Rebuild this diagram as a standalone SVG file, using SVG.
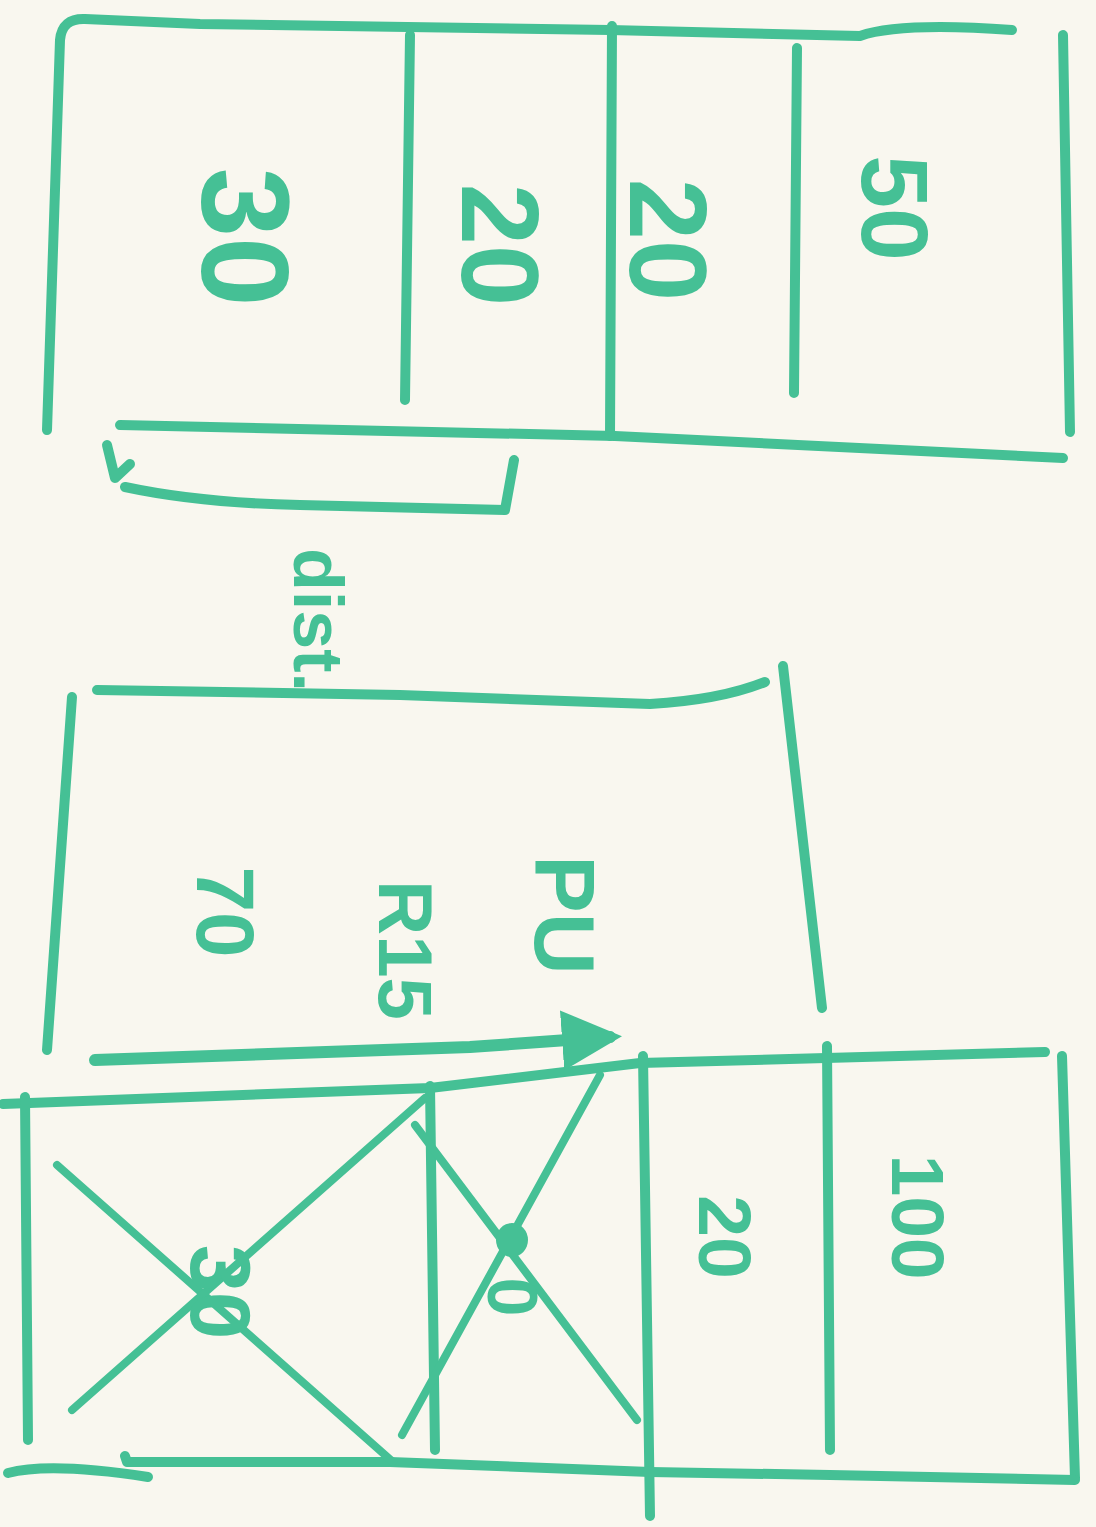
<svg xmlns="http://www.w3.org/2000/svg" width="1096" height="1527" viewBox="0 0 1096 1527">
<style>
.ink{fill:none;stroke:#45c095;stroke-width:10;stroke-linecap:round;stroke-linejoin:round}
.thin{stroke-width:8}
.lbl{fill:#45c095;font-family:"Liberation Sans",Arial,sans-serif;font-weight:bold;text-anchor:middle;dominant-baseline:central}
</style>
<defs>
<marker id="ah" viewBox="0 0 10 10" refX="8" refY="5" markerWidth="5" markerHeight="5" orient="auto" markerUnits="strokeWidth">
<path d="M0,0 L10,5 L0,10 Z" fill="#45c095"/>
</marker>
</defs>
<rect width="1096" height="1527" fill="#f9f7ef"/>

<g id="top-block">
<path class="ink" d="M47,430 L60,40 Q62,18 85,19 L200,24 L610,30 L860,36 Q900,22 1012,30"/>
<path class="ink" d="M1063,35 L1070,432"/>
<path class="ink" d="M120,425 L615,436 L1063,458"/>
<path class="ink" d="M410,35 L405,400"/>
<path class="ink" d="M612,26 L610,436"/>
<path class="ink" d="M797,48 L794,393"/>
<text class="lbl" font-size="125" transform="translate(245,237) rotate(90)">30</text>
<text class="lbl" font-size="110" transform="translate(500,245) rotate(90)">20</text>
<text class="lbl" font-size="110" transform="translate(668,240) rotate(90)">20</text>
<text class="lbl" font-size="95" transform="translate(895,208) rotate(90)">50</text>
</g>

<g id="dist-bracket">
<path class="ink" d="M107,445 L115,478 L130,464"/>
<path class="ink" d="M125,487 Q200,503 300,505 L505,510 L514,460"/>
<text class="lbl" font-size="70" transform="translate(318,620) rotate(90)">dist.</text>
</g>

<g id="middle-block">
<path class="ink" d="M97,690 L400,695 L650,704 Q720,700 765,682"/>
<path class="ink" d="M72,697 L47,1050"/>
<path class="ink" d="M783,666 L822,1008"/>
<text class="lbl" font-size="82" transform="translate(225,912) rotate(90)">70</text>
<text class="lbl" font-size="76" transform="translate(405,950) rotate(90)">R15</text>
<text class="lbl" font-size="86" transform="translate(565,915) rotate(90)">PU</text>
</g>

<g id="bottom-block">
<path class="ink" d="M3,1104 L430,1088 L640,1063 L1045,1052"/>
<path class="ink" d="M25,1097 L28,1440"/>
<path class="ink" d="M430,1086 L435,1450"/>
<path class="ink" d="M643,1056 L650,1516"/>
<path class="ink" d="M827,1046 L830,1450"/>
<path class="ink" d="M1062,1056 L1075,1478"/>
<path class="ink" d="M8,1473 Q50,1462 148,1477"/>
<path class="ink" d="M125,1456 L127,1462 L390,1462 L650,1472 L830,1475 L1075,1480"/>
<path class="ink thin" d="M57,1165 L393,1462"/>
<path class="ink thin" d="M72,1410 L425,1098"/>
<path class="ink thin" d="M415,1125 L637,1420"/>
<path class="ink thin" d="M402,1435 L600,1075"/>
<text class="lbl" font-size="85" transform="translate(220,1292) rotate(90)">30</text>
<ellipse cx="512" cy="1240" rx="16" ry="17" fill="#45c095"/>
<text class="lbl" font-size="70" transform="translate(512,1297) rotate(90)">0</text>
<text class="lbl" font-size="75" transform="translate(725,1237) rotate(90)">20</text>
<text class="lbl" font-size="75" transform="translate(918,1217) rotate(90)">100</text>
</g>

<g id="connectors">
<path class="ink" d="M95,1060 L470,1047 L610,1037" marker-end="url(#ah)" style="stroke-width:12"/>
</g>
</svg>
